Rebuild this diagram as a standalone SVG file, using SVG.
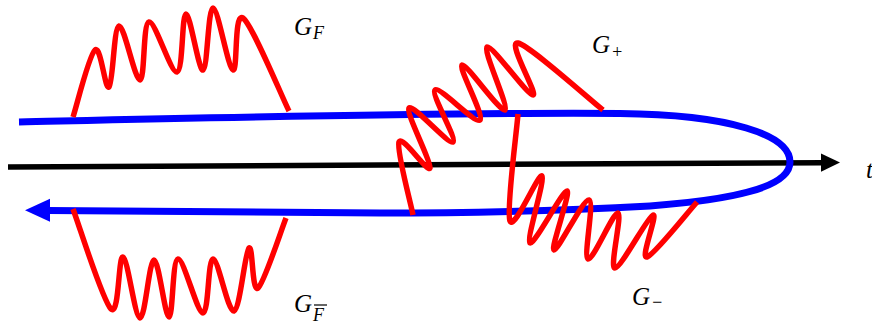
<svg xmlns="http://www.w3.org/2000/svg" width="872" height="323" viewBox="0 0 872 323">
<style>
.wave{fill:none;stroke:#ff0000;stroke-width:5.5;stroke-linecap:butt;stroke-linejoin:round}
.contour{fill:none;stroke:#0000ff;stroke-width:7}
.axis{fill:none;stroke:#000000;stroke-width:5.5}
.lbl{font-family:"Liberation Serif","Times New Roman",serif;font-style:italic;font-size:25px;fill:#000}
.sub{font-size:18px}
</style>
<rect width="872" height="323" fill="#ffffff"/>
<g id="connectors">
  <g id="time-axis">
    <path class="axis" d="M8,167 L823,162.7"/>
    <polygon points="840,162.6 821,153.5 821,171.7" fill="#000"/>
  </g>
  <g id="keldysh-contour">
    <path class="contour" d="M19,122 C200,118 450,112 620,113.5 C730,114.5 790,135 790,162 C790,188 730,200 650,206 C560,211 450,213 380,213 L48,210.5"/>
    <polygon points="25,210.3 50,198.8 50,221.8" fill="#0000ff"/>
  </g>
</g>
<g id="G_F">
  <path class="wave" d="M73,117 C76.7,105.8 89,55 95,50 C101,45 105,91 109,87 C113,83 113.8,27.2 119,26 C124.2,24.8 135,80.7 140,80 C145,79.3 142.8,23.3 149,22 C155.2,20.7 170.8,73.3 177,72 C183.2,70.7 181.7,14.3 186,14 C190.3,13.7 198.5,71 203,70 C207.5,69 208,8 213,8 C218,8 228,68.3 233,70 C238,71.7 233.7,11.2 243,18 C252.3,24.8 281.3,95.5 289,111"/>
  <text class="lbl" x="294" y="35">G<tspan class="sub" dx="1" dy="4">F</tspan></text>
</g>
<g id="G_Fbar">
  <path class="wave" d="M73,209 C79.3,225.7 102.7,301 111,309 C119.3,317 118.2,255.5 123,257 C127.8,258.5 134.8,317.5 140,318 C145.2,318.5 149.2,260.2 154,260 C158.8,259.8 165,317.2 169,317 C173,316.8 172.3,259.7 178,259 C183.7,258.3 197.2,313 203,313 C208.8,313 207.8,259.3 213,259 C218.2,258.7 228,312.8 234,311 C240,309.2 245,251.8 249,248 C253,244.2 251.8,293 258,288 C264.2,283 281.3,229.7 286,218"/>
  <text class="lbl" x="294" y="312">G<tspan class="sub" dx="1" dy="8.5">F</tspan></text>
  <line x1="314" y1="305" x2="327" y2="305" stroke="#000" stroke-width="1.2"/>
</g>
<g id="G_plus">
  <path class="wave" d="M413,215 C410.7,202.8 396.2,149.8 399,142 C401.8,134.2 428.3,173.7 430,168 C431.7,162.3 405.2,112.3 409,108 C412.8,103.7 448.7,145 453,142 C457.3,139 430.5,93.7 435,90 C439.5,86.3 475.5,124.2 480,120 C484.5,115.8 457.8,66.7 462,65 C466.2,63.3 500.8,113 505,110 C509.2,107 482.3,49.5 487,47 C491.7,44.5 527.8,95.7 533,95 C538.2,94.3 506.3,40.5 518,43 C529.7,45.5 588.8,98.8 603,110"/>
  <text class="lbl" x="592" y="53">G<tspan class="sub" dx="1" dy="5">+</tspan></text>
</g>
<g id="G_minus">
  <path class="wave" d="M518,114 C516.7,131.8 506,210.7 510,221 C514,231.3 538.7,172.3 542,176 C545.3,179.7 525.8,240.5 530,243 C534.2,245.5 563,189.8 567,191 C571,192.2 550.3,248.5 554,250 C557.7,251.5 583.3,198.5 589,200 C594.7,201.5 583.2,256.8 588,259 C592.8,261.2 613.5,211.5 618,213 C622.5,214.5 609.2,267.7 615,268 C620.8,268.3 647.7,216.8 653,215 C658.3,213.2 639.7,259.2 647,257 C654.3,254.8 688.7,211.2 697,202"/>
  <text class="lbl" x="632" y="305">G<tspan class="sub" dx="1" dy="3">−</tspan></text>
</g>
<g id="t-label">
  <text class="lbl" x="866" y="178">t</text>
</g>
</svg>
